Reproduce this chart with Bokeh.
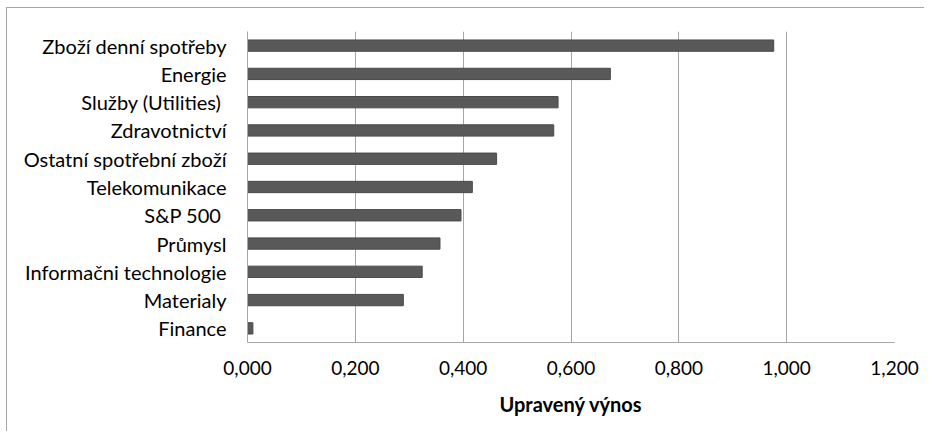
from bokeh.plotting import figure
from bokeh.models import FactorRange, Range1d, FixedTicker, CustomJSTickFormatter
from bokeh.embed import file_html
from bokeh.resources import INLINE

categories = [
    "Zboží denní spotřeby",
    "Energie",
    "Služby (Utilities) ",
    "Zdravotnictví",
    "Ostatní spotřební zboží",
    "Telekomunikace",
    "S&P 500 ",
    "Průmysl",
    "Informačni technologie",
    "Materialy",
    "Finance",
]
values = [0.976, 0.673, 0.576, 0.568, 0.462, 0.417, 0.396, 0.357, 0.324, 0.289, 0.010]
x_ticks = [0.0, 0.2, 0.4, 0.6, 0.8, 1.0, 1.2]
x_title = "Upravený výnos"

FONT = "Lato"

factors = list(reversed(categories))
p = figure(
    width=918, height=424,
    y_range=FactorRange(factors=factors, range_padding=0),
    x_range=Range1d(0, 1.2),
    output_backend="svg", toolbar_location=None,
    min_border_left=240, min_border_right=31, min_border_top=23, min_border_bottom=90,
)
p.styles = {
    "margin-left": "6px", "margin-top": "7px",
    "border-top": "1px solid #a6a6a6", "border-left": "1px solid #a6a6a6",
}
p.outline_line_color = None

p.hbar(y=categories, right=values, left=0, height=0.4,
       fill_color="#595959", line_color="#4a4a4a", line_width=1)

p.xaxis.ticker = FixedTicker(ticks=x_ticks)
p.xaxis.formatter = CustomJSTickFormatter(code="return tick.toFixed(3).replace('.', ',');")
p.xaxis.axis_label = x_title
p.xaxis.axis_label_text_font = FONT
p.xaxis.axis_label_text_font_style = "bold"
p.xaxis.axis_label_text_font_size = "20px"
p.xaxis.axis_label_text_color = "#000000"
p.xaxis.axis_label_standoff = 14
p.xaxis.major_label_text_font = FONT
p.xaxis.major_label_text_font_size = "19px"
p.xaxis.major_label_text_color = "#000000"
p.xaxis.major_label_standoff = 12
p.xaxis.major_tick_line_color = None
p.xaxis.minor_tick_line_color = None
p.xaxis.axis_line_color = "#a6a6a6"

p.yaxis.major_label_text_font = FONT
p.yaxis.major_label_text_font_size = "20px"
p.yaxis.major_label_text_color = "#000000"
p.yaxis.major_label_standoff = 15
p.yaxis.major_tick_line_color = None
p.yaxis.minor_tick_line_color = None
p.yaxis.axis_line_color = "#a6a6a6"

p.xgrid.grid_line_color = "#a6a6a6"
p.ygrid.grid_line_color = None

open("out.html", "w").write(file_html(p, INLINE))
